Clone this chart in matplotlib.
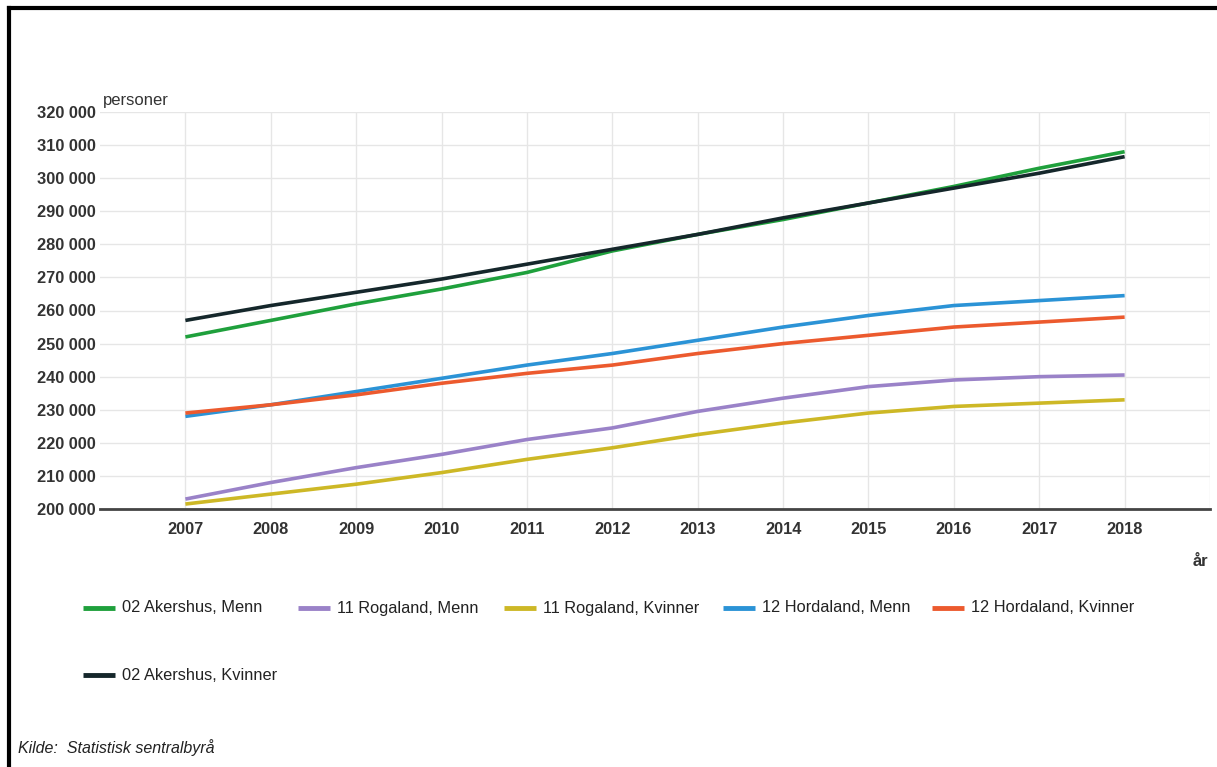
import matplotlib
matplotlib.use("Agg")
import matplotlib.pyplot as plt
from matplotlib.lines import Line2D
from matplotlib.ticker import FuncFormatter

plt.rcParams['font.family'] = ['Liberation Sans', 'DejaVu Sans']

years = [2007, 2008, 2009, 2010, 2011, 2012, 2013, 2014, 2015, 2016, 2017, 2018]

akershus_menn = [252000, 257000, 262000, 266500, 271500, 278000, 283000, 287500, 292500, 297500, 303000, 308000]
rogaland_menn = [203000, 208000, 212500, 216500, 221000, 224500, 229500, 233500, 237000, 239000, 240000, 240500]
rogaland_kvinner = [201500, 204500, 207500, 211000, 215000, 218500, 222500, 226000, 229000, 231000, 232000, 233000]
hordaland_menn = [228000, 231500, 235500, 239500, 243500, 247000, 251000, 255000, 258500, 261500, 263000, 264500]
hordaland_kvinner = [229000, 231500, 234500, 238000, 241000, 243500, 247000, 250000, 252500, 255000, 256500, 258000]
akershus_kvinner = [257000, 261500, 265500, 269500, 274000, 278500, 283000, 288000, 292500, 297000, 301500, 306500]

labels = ["02 Akershus, Menn", "11 Rogaland, Menn", "11 Rogaland, Kvinner",
          "12 Hordaland, Menn", "12 Hordaland, Kvinner", "02 Akershus, Kvinner"]
series = [akershus_menn, rogaland_menn, rogaland_kvinner, hordaland_menn, hordaland_kvinner, akershus_kvinner]
colors = ["#1fa03c", "#9a82c8", "#cdb826", "#2b93d6", "#ec5a2e", "#15272b"]

yticks = list(range(200000, 320001, 10000))

W, H = 1217, 767
fig = plt.figure(figsize=(W / 100, H / 100), dpi=100)
ax = fig.add_axes([100 / W, (H - 509) / H, (1210 - 100) / W, (509 - 112) / H])

for vals, c, lab in zip(series, colors, labels):
    ax.plot(years, vals, color=c, lw=2.6, label=lab, solid_capstyle='butt', zorder=3)

ax.set_xlim(2006, 2019)
ax.set_ylim(200000, 320000)
ax.set_xticks(years)
ax.set_yticks(yticks)
ax.yaxis.set_major_formatter(FuncFormatter(lambda v, p: f"{int(v):,}".replace(",", " ")))
ax.set_xticks([2019], minor=True)
ax.grid(True, which='both', color='#e6e6e6', lw=1)
ax.set_axisbelow(True)
for s in ['top', 'right', 'left']:
    ax.spines[s].set_visible(False)
ax.spines['bottom'].set_color('#444444')
ax.spines['bottom'].set_linewidth(2)
ax.tick_params(axis='both', which='both', length=0)
ax.tick_params(axis='y', pad=3, labelsize=11.8, labelcolor='#333333')
ax.tick_params(axis='x', pad=9, labelsize=11.8, labelcolor='#333333')
for t in ax.get_xticklabels():
    t.set_fontweight('bold')
for t in ax.get_yticklabels():
    t.set_fontweight('bold')

fig.text(103 / W, 1 - 100 / H, "personer", fontsize=12, color='#333333', va='center', ha='left')
fig.text(1200 / W, 1 - 562 / H, "år", fontsize=12, color='#333333', va='center', ha='center', fontweight='bold')

# legend (manual positions)
leg_pos = [(83, 608), (298, 608), (504, 608), (723, 608), (932, 608), (83, 675)]
for (lx, ly), c, lab in zip(leg_pos, colors, labels):
    fig.add_artist(Line2D([lx / W, (lx + 32) / W], [1 - ly / H, 1 - ly / H], color=c, lw=3.5,
                          solid_capstyle='butt', transform=fig.transFigure))
    fig.text((lx + 39) / W, 1 - ly / H, lab, fontsize=11.8, color='#222222', va='center', ha='left')

fig.text(18 / W, 1 - 748 / H, "Kilde:  Statistisk sentralbyrå", fontsize=11.5, color='#222222',
         style='italic', va='center', ha='left')

# frame
fig.add_artist(Line2D([9 / W, 9 / W], [0, 1 - 8 / H], color='black', lw=3, transform=fig.transFigure))
fig.add_artist(Line2D([9 / W, 1], [1 - 8 / H, 1 - 8 / H], color='black', lw=3, transform=fig.transFigure))

fig.savefig("out.png", dpi=100)
